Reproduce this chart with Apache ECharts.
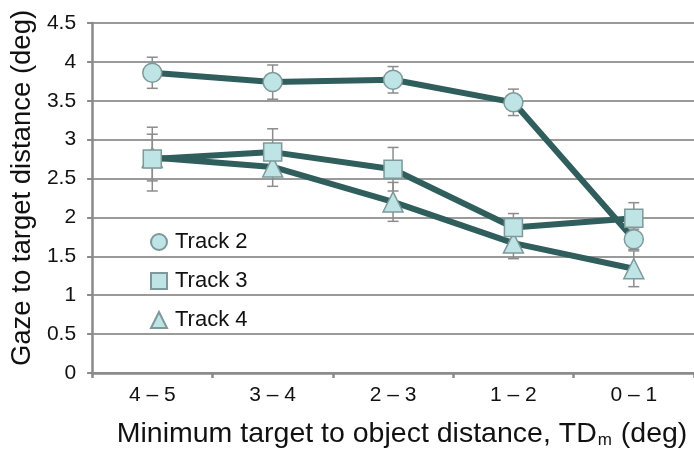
<!DOCTYPE html>
<html>
<head>
<meta charset="utf-8">
<script src="https://cdn.jsdelivr.net/npm/echarts@6/dist/echarts.min.js"></script>
<style>
html,body{margin:0;padding:0;background:#fff;}
#chart{width:694px;height:455px;}
</style>
</head>
<body>
<div id="chart"></div>
<script>
// Distance ranges on the x axis
const categories = ['4 – 5', '3 – 4', '2 – 3', '1 – 2', '0 – 1'];

// Mean gaze-to-target distance per track (deg)
const track2 = [3.86, 3.74, 3.77, 3.48, 1.72];
const track3 = [2.75, 2.84, 2.62, 1.87, 1.99];
const track4 = [2.77, 2.65, 2.20, 1.67, 1.34];

// Error bar half-widths (deg)
const track2Err = [0.20, 0.22, 0.17, 0.17, 0.13];
const track3Err = [0.41, 0.30, 0.28, 0.18, 0.20];
const track4Err = [0.30, 0.25, 0.25, 0.20, 0.23];

const yTicks = { min: 0, max: 4.5, step: 0.5 };

const LINE = '#2f5e5d';
const FILL = '#bfe4e6';
const EDGE = '#7d9999';
const BAR = '#8c8c8c';
const FONT = 'Liberation Sans, Arial, Helvetica, sans-serif';

function errData(vals, errs) {
  return vals.map((v, i) => [i, v - errs[i], v + errs[i]]);
}

function errSeries(name, vals, errs) {
  return {
    type: 'custom',
    name: name + ' err',
    z: 1,
    silent: true,
    data: errData(vals, errs),
    renderItem: function (params, api) {
      const lo = api.coord([api.value(0), api.value(1)]);
      const hi = api.coord([api.value(0), api.value(2)]);
      const w = 5.5;
      const style = { stroke: BAR, lineWidth: 1.5 };
      return {
        type: 'group',
        children: [
          { type: 'line', shape: { x1: lo[0], y1: lo[1], x2: hi[0], y2: hi[1] }, style },
          { type: 'line', shape: { x1: lo[0] - w, y1: lo[1], x2: lo[0] + w, y2: lo[1] }, style },
          { type: 'line', shape: { x1: hi[0] - w, y1: hi[1], x2: hi[0] + w, y2: hi[1] }, style }
        ]
      };
    }
  };
}

function lineSeries(name, vals, symbol, size) {
  return {
    type: 'line',
    name: name,
    data: vals,
    z: 3,
    symbol: symbol,
    symbolSize: size,
    showAllSymbol: true,
    lineStyle: { color: LINE, width: 6 },
    itemStyle: { color: FILL, borderColor: EDGE, borderWidth: 1.5 },
    emphasis: { disabled: true },
    animation: false
  };
}

const chart = echarts.init(document.getElementById('chart'));
chart.setOption({
  animation: false,
  grid: { left: 90, right: 0, top: 23, bottom: 82 },
  legend: {
    orient: 'vertical',
    left: 145,
    top: 226,
    itemGap: 17,
    itemWidth: 16,
    itemHeight: 16,
    textStyle: { fontFamily: FONT, fontSize: 22, lineHeight: 22, color: '#111', padding: [0, 0, 0, 3] },
    data: [
      { name: 'Track 2', icon: 'circle' },
      { name: 'Track 3', icon: 'rect' },
      { name: 'Track 4', icon: 'triangle' }
    ]
  },
  xAxis: {
    type: 'category',
    data: categories,
    boundaryGap: true,
    axisLine: { lineStyle: { color: '#8a8a8a', width: 2.5 } },
    axisTick: { show: true, length: 5, lineStyle: { color: '#8a8a8a', width: 2.5 } },
    axisLabel: { fontFamily: FONT, fontSize: 21, color: '#111', margin: 12 },
    name: 'Minimum target to object distance, TD{sub|m} (deg)',
    nameLocation: 'middle',
    nameGap: 47,
    nameTextStyle: {
      fontFamily: FONT, fontSize: 28.5, color: '#111', padding: [0, 0, 0, 18],
      rich: { sub: { fontFamily: FONT, fontSize: 17, color: '#111', verticalAlign: 'bottom', padding: [12, 1, 0, 1] } }
    }
  },
  yAxis: {
    type: 'value',
    min: yTicks.min,
    max: yTicks.max,
    interval: yTicks.step,
    axisLine: { show: true, lineStyle: { color: '#8a8a8a', width: 2.5 } },
    axisTick: { show: true, length: 5, lineStyle: { color: '#8a8a8a', width: 2 } },
    axisLabel: { fontFamily: FONT, fontSize: 21, color: '#111', margin: 16 },
    splitLine: { lineStyle: { color: '#9a9a9a', width: 2 } },
    name: 'Gaze to target distance (deg)',
    nameLocation: 'middle',
    nameRotate: 90,
    nameGap: 56,
    nameTextStyle: { fontFamily: FONT, fontSize: 27.5, color: '#111', padding: [0, 0, 0, 20] }
  },
  series: [
    errSeries('Track 4', track4, track4Err),
    errSeries('Track 3', track3, track3Err),
    errSeries('Track 2', track2, track2Err),
    lineSeries('Track 4', track4, 'triangle', 20),
    lineSeries('Track 3', track3, 'rect', 18),
    lineSeries('Track 2', track2, 'circle', 19)
  ]
});
</script>
</body>
</html>
